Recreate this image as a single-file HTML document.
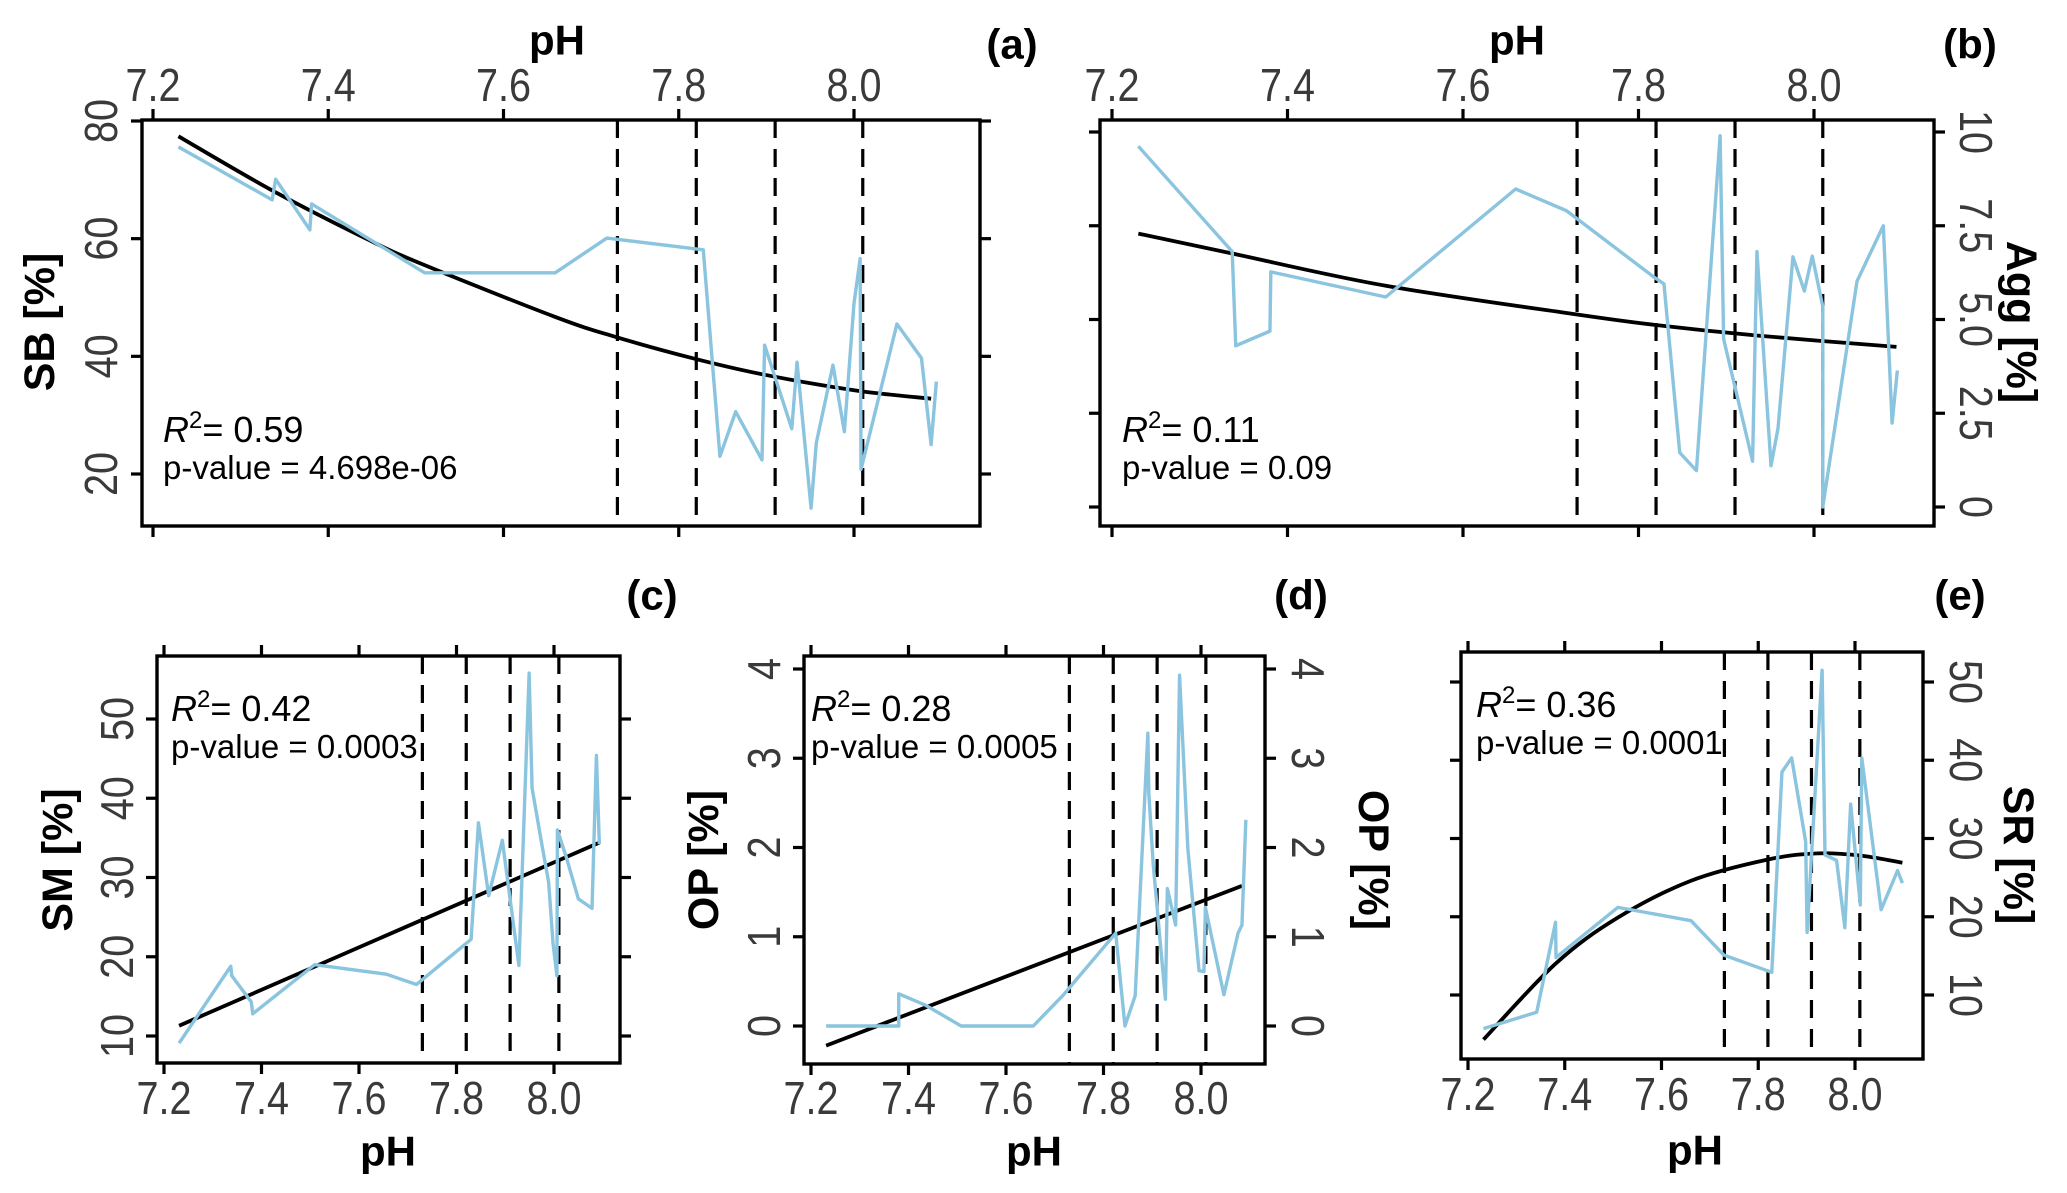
<!DOCTYPE html>
<html><head><meta charset="utf-8">
<style>
html,body{margin:0;padding:0;background:#fff;}
svg{display:block;font-family:"Liberation Sans",Arial,sans-serif;}
</style></head>
<body>
<svg id="fig" width="2067" height="1193" viewBox="0 0 2067 1193" xmlns="http://www.w3.org/2000/svg"></svg>
<script>
// ---- data ----
const dashedPH = [7.73, 7.82, 7.91, 8.01];
const xTicks = [7.2, 7.4, 7.6, 7.8, 8.0];
const xTickLabels = ["7.2", "7.4", "7.6", "7.8", "8.0"];

const aPH = [7.229,7.336,7.340,7.379,7.381,7.51,7.659,7.718,7.828,7.847,7.865,7.895,7.898,7.929,7.935,7.951,7.957,7.976,7.989,8.0,8.007,8.008,8.049,8.077,8.088,8.094];
const aSB = [75.6,66.6,70.1,61.5,65.9,54.2,54.2,60.1,58.1,23.0,30.6,22.4,41.9,27.7,39.0,14.2,25.3,38.5,27.2,49.0,56.6,20.8,45.5,39.7,25.0,35.7];
const aFitPH = [7.229,7.336,7.446,7.51,7.659,7.728,7.818,7.897,8.002,8.088];
const aFitSB = [77.4,68.2,59.8,55.5,46.7,43.3,39.6,36.9,34.2,32.8];
const aYTicks = [20,40,60,80];

const bPH = [7.230,7.337,7.341,7.380,7.381,7.512,7.660,7.718,7.817,7.829,7.847,7.866,7.893,7.897,7.930,7.935,7.951,7.959,7.976,7.989,7.998,8.010,8.010,8.049,8.079,8.089,8.095];
const bAgg = [9.62,6.81,4.30,4.69,6.27,5.60,8.48,7.90,6.14,5.95,1.45,0.97,9.90,4.48,1.22,6.81,1.10,2.10,6.67,5.76,6.69,5.35,0,6.02,7.50,2.24,3.64];
const bFitPH = [7.230,7.337,7.512,7.728,7.817,7.936,8.094];
const bFitAgg = [7.29,6.76,5.90,5.14,4.86,4.57,4.27];
const bYTicks = [0,2.5,5,7.5,10];
const bYLabels = ["0","2.5","5.0","7.5","10"];

const cPH = [7.231,7.337,7.339,7.379,7.382,7.509,7.656,7.718,7.830,7.845,7.866,7.894,7.928,7.949,7.955,7.975,7.989,7.998,8.006,8.007,8.026,8.050,8.078,8.087,8.093];
const cSM = [9.1,18.8,17.6,14.3,12.8,19.0,17.8,16.5,22.2,36.9,27.7,34.7,18.9,55.8,41.3,34.2,29.4,21.7,17.6,36.0,32.4,27.3,26.1,45.4,34.2];
const cFitPH = [7.231,8.093];
const cFitSM = [11.3,34.4];
const cYTicks = [10,20,30,40,50];

const dPH = [7.231,7.380,7.380,7.436,7.508,7.656,7.718,7.825,7.844,7.865,7.891,7.893,7.902,7.927,7.931,7.948,7.956,7.973,7.996,8.006,8.009,8.047,8.076,8.084,8.092];
const dOP = [0,0,0.36,0.23,0,0,0.35,1.04,0,0.34,3.28,2.6,1.81,0.30,1.54,1.13,3.93,1.99,0.62,0.61,1.33,0.35,1.04,1.13,2.31];
const dFitPH = [7.231,8.084];
const dFitOP = [-0.22,1.57];
const dYTicks = [0,1,2,3,4];

const ePH = [7.232,7.342,7.381,7.382,7.51,7.661,7.729,7.828,7.849,7.869,7.898,7.901,7.932,7.938,7.962,7.979,7.991,8.011,8.014,8.054,8.088,8.098];
const eSR = [5.7,7.8,19.3,14.8,21.2,19.5,15.1,12.9,38.5,40.3,29.6,18.0,51.5,27.9,27.2,18.6,34.4,21.5,40.3,20.9,25.9,24.3];
const eFitPH = [7.232,7.381,7.51,7.661,7.819,7.923,8.014,8.098];
const eFitSR = [4.3,14.0,19.9,24.6,27.3,28.1,27.8,26.9];
const eYTicks = [10,20,30,40,50];

// ---- drawing ----
const NS = "http://www.w3.org/2000/svg";
const svg = document.getElementById("fig");
function mk(tag, attrs, parent){
  const e = document.createElementNS(NS, tag);
  for (const k in attrs) e.setAttribute(k, attrs[k]);
  (parent||svg).appendChild(e);
  return e;
}
function linMap(d0,d1,p0,p1){ return v => p0 + (v-d0)*(p1-p0)/(d1-d0); }
function smoothPath(pts){
  if (pts.length < 3) return "M" + pts.map(p=>p[0]+","+p[1]).join(" L");
  let d = "M" + pts[0][0] + "," + pts[0][1];
  for (let i=0;i<pts.length-1;i++){
    const p0 = pts[Math.max(0,i-1)], p1 = pts[i], p2 = pts[i+1], p3 = pts[Math.min(pts.length-1,i+2)];
    const c1x = p1[0] + (p2[0]-p0[0])/6, c1y = p1[1] + (p2[1]-p0[1])/6;
    const c2x = p2[0] - (p3[0]-p1[0])/6, c2y = p2[1] - (p3[1]-p1[1])/6;
    d += ` C${c1x},${c1y} ${c2x},${c2y} ${p2[0]},${p2[1]}`;
  }
  return d;
}

function panel(cfg){
  const g = mk("g", {});
  
  
  const X = linMap(7.2, 8.0, cfg.x72, cfg.x80);
  const Y = linMap(cfg.yd0, cfg.yd1, cfg.yp0, cfg.yp1);
  const [x0,y0,x1,y1] = cfg.box;
  dashedPH.forEach(v => {
    const l = mk("line", {x1:X(v), x2:X(v), y1:y0, y2:y1, stroke:"#000", "stroke-width":3.2, "stroke-dasharray":"18 11"}, g);
    
    
  });
  const fitPts = cfg.fitX.map((v,i)=>[X(v), Y(cfg.fitY[i])]);
  const fit = mk("path", {d: smoothPath(fitPts), fill:"none", stroke:"#000", "stroke-width":3.8}, g);
  
  
  const dl = mk("polyline", {points: cfg.dataX.map((v,i)=>X(v)+","+Y(cfg.dataY[i])).join(" "), fill:"none", stroke:"#8ac4de", "stroke-width":3.4, "stroke-linejoin":"round"}, g);
  
  
  const r = mk("rect", {x:x0, y:y0, width:x1-x0, height:y1-y0, fill:"none", stroke:"#000", "stroke-width":3.4}, g);
  
  
  xTicks.forEach((v,i) => {
    mk("line", {x1:X(v), x2:X(v), y1:y0, y2:y0-11, stroke:"#000", "stroke-width":3.2}, g);
    mk("line", {x1:X(v), x2:X(v), y1:y1, y2:y1+11, stroke:"#000", "stroke-width":3.2}, g);
    const t = mk("text", {x:0, y:0, "text-anchor":"middle", "dominant-baseline":"central", "font-size":46, fill:"#3a3a3a", transform:`translate(${X(v)},${cfg.xLabY}) scale(0.86,1)`}, g);
    t.textContent = xTickLabels[i];
    
    
  });
  cfg.yTicks.forEach((v,i) => {
    mk("line", {x1:x0, x2:x0-11, y1:Y(v), y2:Y(v), stroke:"#000", "stroke-width":3.2}, g);
    mk("line", {x1:x1, x2:x1+11, y1:Y(v), y2:Y(v), stroke:"#000", "stroke-width":3.2}, g);
    const lab = cfg.yLabels ? cfg.yLabels[i] : String(v);
    cfg.yLabSides.forEach(s => {
      const t = mk("text", {x:0, y:0, "text-anchor":"middle", "dominant-baseline":"central", "font-size":46, fill:"#3a3a3a", transform:`translate(${s.x},${Y(v)}) rotate(${s.rot}) scale(0.86,1)`}, g);
      t.textContent = lab;
      
      
    });
  });
  const xt = mk("text", {x:cfg.xTitle[0], y:cfg.xTitle[1], "text-anchor":"middle", "dominant-baseline":"central", "font-size":42, "font-weight":"bold"}, g);
  xt.textContent = "pH";
  
  
  cfg.yTitles.forEach(yt => {
    const t = mk("text", {x:0, y:0, "text-anchor":"middle", "dominant-baseline":"central", "font-size":43, "font-weight":"bold", transform:`translate(${yt.x},${yt.y}) rotate(${yt.rot})`}, g);
    t.textContent = cfg.yTitleText;
    
    
  });
  const pl = mk("text", {x:cfg.letter[0], y:cfg.letter[1], "text-anchor":"middle", "dominant-baseline":"central", "font-size":42, "font-weight":"bold"}, g);
  pl.textContent = cfg.letterText;
  
  
  const r2 = mk("text", {x:cfg.stat[0], y:cfg.stat[1], "font-size":36}, g);
  r2.innerHTML = '<tspan font-style="italic">R</tspan><tspan dy="-14" font-size="24">2</tspan><tspan dy="14">= ' + cfg.r2 + '</tspan>';
  
  
  const pv = mk("text", {x:cfg.stat[0], y:cfg.stat[1]+37, "font-size":33}, g);
  pv.textContent = "p-value = " + cfg.p;
  
  
}

panel({name:"panel-a-sb", box:[142,120,980,526], x72:153, x80:854, yd0:20, yd1:80, yp0:474, yp1:121,
  dataX:aPH, dataY:aSB, fitX:aFitPH, fitY:aFitSB, yTicks:aYTicks,
  yLabSides:[{x:102, rot:-90}], xLabY:86, xTitle:[557,40], yTitleText:"SB [%]", yTitles:[{x:40,y:322,rot:-90}],
  letterText:"(a)", letter:[1012,44], stat:[163,442], r2:"0.59", p:"4.698e-06"});

panel({name:"panel-b-agg", box:[1100,120,1934,526], x72:1112, x80:1814, yd0:0, yd1:10, yp0:507, yp1:132,
  dataX:bPH, dataY:bAgg, fitX:bFitPH, fitY:bFitAgg, yTicks:bYTicks, yLabels:bYLabels,
  yLabSides:[{x:1975, rot:90}], xLabY:86, xTitle:[1517,40], yTitleText:"Agg [%]", yTitles:[{x:2021,y:322,rot:90}],
  letterText:"(b)", letter:[1970,44], stat:[1122,442], r2:"0.11", p:"0.09"});

panel({name:"panel-c-sm", box:[157,656,620,1063], x72:164, x80:554, yd0:10, yd1:50, yp0:1036, yp1:719,
  dataX:cPH, dataY:cSM, fitX:cFitPH, fitY:cFitSM, yTicks:cYTicks,
  yLabSides:[{x:118, rot:-90}], xLabY:1099, xTitle:[388,1151], yTitleText:"SM [%]", yTitles:[{x:58,y:860,rot:-90}],
  letterText:"(c)", letter:[652,595], stat:[171,721], r2:"0.42", p:"0.0003"});

panel({name:"panel-d-op", box:[804,656,1265,1064], x72:811, x80:1201, yd0:0, yd1:4, yp0:1026, yp1:669,
  dataX:dPH, dataY:dOP, fitX:dFitPH, fitY:dFitOP, yTicks:dYTicks,
  yLabSides:[{x:765, rot:-90},{x:1307, rot:90}], xLabY:1099, xTitle:[1034,1151], yTitleText:"OP [%]",
  yTitles:[{x:704,y:860,rot:-90},{x:1373,y:860,rot:90}],
  letterText:"(d)", letter:[1301,595], stat:[811,721], r2:"0.28", p:"0.0005"});

panel({name:"panel-e-sr", box:[1461,652,1923,1059], x72:1468, x80:1855, yd0:10, yd1:50, yp0:995, yp1:682,
  dataX:ePH, dataY:eSR, fitX:eFitPH, fitY:eFitSR, yTicks:eYTicks,
  yLabSides:[{x:1965, rot:90}], xLabY:1095, xTitle:[1695,1150], yTitleText:"SR [%]", yTitles:[{x:2018,y:855,rot:90}],
  letterText:"(e)", letter:[1960,595], stat:[1476,717], r2:"0.36", p:"0.0001"});
</script>
</body></html>
